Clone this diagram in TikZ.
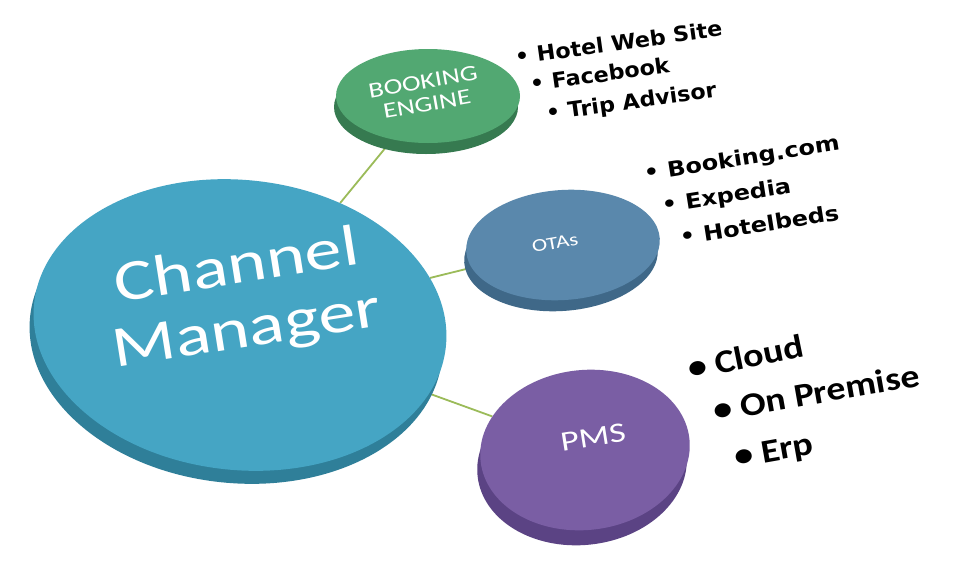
\documentclass[tikz,border=0pt]{standalone}
\usepackage{fontspec}
\setmainfont{Carlito}
\newfontfamily\discfont[FakeStretch=1.28]{Carlito}
\newfontfamily\listfont[FakeStretch=1.06]{DejaVu Sans}
\newfontfamily\listfontwide[FakeStretch=1.14]{DejaVu Sans}
\newfontfamily\pmslistfont[FakeStretch=1.15]{Carlito}
\usetikzlibrary{shapes.geometric}
\pgfdeclarelayer{back}
\pgfdeclarelayer{bg}
\pgfsetlayers{back,bg,main}
\definecolor{cmface}{HTML}{45A5C4}
\definecolor{cmrim}{HTML}{2F7F99}
\definecolor{beface}{HTML}{52A872}
\definecolor{berim}{HTML}{367A50}
\definecolor{otface}{HTML}{5A88AC}
\definecolor{otrim}{HTML}{3F6888}
\definecolor{pmface}{HTML}{7A5EA4}
\definecolor{pmrim}{HTML}{5B4384}
\definecolor{linkgreen}{HTML}{9BBB59}
\begin{document}
\begin{tikzpicture}[x=1pt,y=-1pt,
  disc/.style={ellipse, inner sep=0pt, draw=none},
  disctext/.style={text=white, align=center, inner sep=0pt},
  link/.style={draw=linkgreen, line width=1.8pt},
  item/.style={anchor=base west, inner sep=0pt, text=black,
    font=\listfont\bfseries\fontsize{21}{24}\selectfont, rotate=8},
  itemwide/.style={anchor=base west, inner sep=0pt, text=black,
    font=\listfontwide\bfseries\fontsize{21}{24}\selectfont, rotate=9},
  bigitem/.style={anchor=base west, inner sep=0pt, text=black,
    font=\pmslistfont\bfseries\fontsize{33}{36}\selectfont, rotate=10}]
\begin{pgfonlayer}{back}
\path[use as bounding box, fill=white] (0,0) rectangle (956,574);
\end{pgfonlayer}

% rims
\fill[cmrim, rotate around={-6:(236,338)}] (236,338) ellipse [x radius=207, y radius=145];
\fill[berim] (426,107) ellipse [x radius=92, y radius=47];
\fill[otrim, rotate around={4:(561,256)}] (561,256) ellipse [x radius=97, y radius=55];
\fill[pmrim, rotate around={6:(582,465)}] (582,465) ellipse [x radius=105, y radius=80];

% faces
\node[disc, fill=cmface, minimum width=414, minimum height=290, rotate=-6] (cm) at (240,325) {};
\node[disc, fill=beface, minimum width=184, minimum height=94] (be) at (428,96) {};
\node[disc, fill=otface, minimum width=194, minimum height=110, rotate=4] (ot) at (563,245) {};
\node[disc, fill=pmface, minimum width=210, minimum height=160, rotate=6] (pm) at (585,450) {};

% disc labels
\node[disctext, rotate=9, font=\discfont\fontsize{58}{64}\selectfont] (cmt) at (242,300) {Channel\\Manager};
\node[disctext, rotate=10, font=\discfont\fontsize{22}{23}\selectfont] (bet) at (425,93) {BOOKING\\ENGINE};
\node[disctext, rotate=10, font=\discfont\fontsize{18}{20}\selectfont] (ott) at (555,243) {OTAs};
\node[disctext, rotate=9, font=\discfont\fontsize{28}{30}\selectfont] (pmt) at (593,437) {PMS};

% connectors
\begin{pgfonlayer}{bg}
\draw[link] (cm) -- (be);
\draw[link] (cm) -- (ot);
\draw[link] (cm) -- (pm);
\end{pgfonlayer}

% lists
\node[item] (i1) at (516,65) {• Hotel Web Site};
\node[item] (i2) at (531,92) {• Facebook};
\node[item] (i3) at (547,121) {• Trip Advisor};
\node[itemwide] (i4) at (645,181) {• Booking.com};
\node[itemwide] (i5) at (663,213) {• Expedia};
\node[itemwide] (i6) at (681,245) {• Hotelbeds};
\node[bigitem, rotate=1.5] (i7) at (690,380) {• Cloud};
\node[bigitem] (i8) at (715,422) {• On Premise};
\node[bigitem] (i9) at (736,468) {• Erp};
\end{tikzpicture}
\end{document}
